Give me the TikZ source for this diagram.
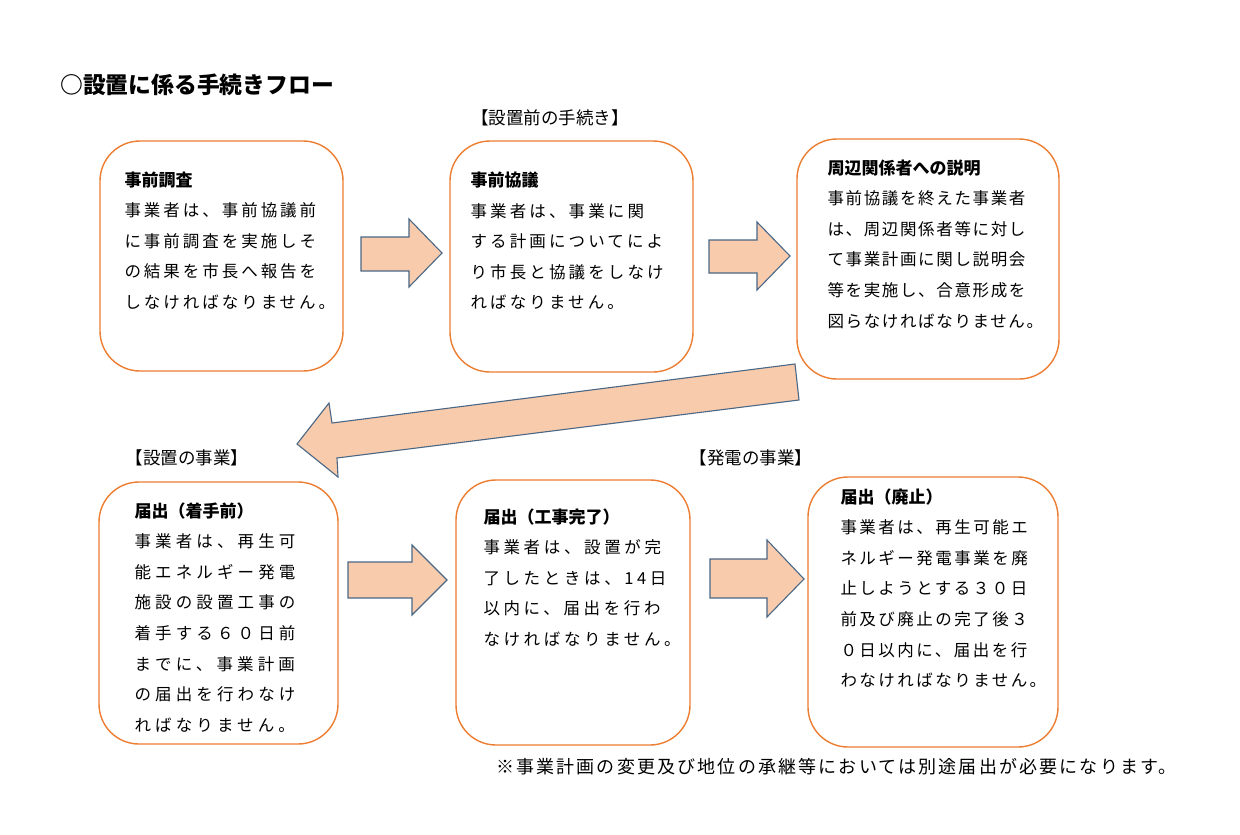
\documentclass[tikz,border=0pt]{standalone}
\usepackage{fontspec}
\usepackage{xcolor}
\usepackage{tikz}
\setmainfont{Noto Sans CJK JP}
\newfontfamily\jp{Noto Sans CJK JP}

\definecolor{boxline}{HTML}{ED7D31}
\definecolor{arrowfill}{HTML}{F8CBAD}
\definecolor{arrowline}{HTML}{4A6785}

\newcommand{\boxhead}[1]{{\jp\bfseries\fontsize{17}{30.6}\selectfont #1}}

\begin{document}
\begin{tikzpicture}[x=1pt,y=-1pt,
        flowbox/.style={draw=boxline, line width=1.4pt, rounded corners=40pt, fill=white},
        boxtext/.style={anchor=north west, inner sep=0pt, align=left,
            font=\fontsize{16.5}{30.6}\selectfont\addfontfeature{LetterSpace=#1}},
        boxtext/.default=15,
        blockarrow/.style={draw=arrowline, line width=1.1pt, fill=arrowfill, line join=miter},
        tag/.style={inner sep=0pt, font=\fontsize{17.5}{19}\selectfont}]
        \useasboundingbox (0,0) rectangle (1240,835);

        \node[anchor=west, inner sep=0pt, font=\bfseries\fontsize{22.8}{24}\selectfont] (title) at (60,85) {○設置に係る手続きフロー};
        \node[tag] (mae) at (550,118) {【設置前の手続き】};
        \node[tag] (setchi) at (187,458) {【設置の事業】};
        \node[tag] (hatsuden) at (751,458) {【発電の事業】};

        \node[flowbox, minimum width=243pt, minimum height=230pt] (chosa) at (221.5,256) {};
        \node[flowbox, minimum width=243pt, minimum height=231pt] (kyogi) at (571.5,256.5) {};
        \node[flowbox, minimum width=262pt, minimum height=240pt] (setsumei) at (928,259) {};
        \node[flowbox, minimum width=239pt, minimum height=262pt] (chakushu) at (218.5,613) {};
        \node[flowbox, minimum width=234pt, minimum height=265pt] (kanryo) at (573,612.5) {};
        \node[flowbox, minimum width=250pt, minimum height=270pt] (haishi) at (933,612) {};

        \node[boxtext=18] (chosa-t) at ([shift={(25,31)}]chosa.north west)
            {\boxhead{事前調査}\\事業者は、事前協議前\\に事前調査を実施しそ\\の結果を市長へ報告を\\しなければなりません。};
        \node[boxtext=19] (kyogi-t) at ([shift={(21,31.5)}]kyogi.north west)
            {\boxhead{事前協議}\\事業者は、事業に関\\する計画についてによ\\り市長と協議をしなけ\\ればなりません。};
        \node[boxtext=10] (setsumei-t) at ([shift={(31,21)}]setsumei.north west)
            {\boxhead{周辺関係者への説明}\\事前協議を終えた事業者\\は、周辺関係者等に対し\\て事業計画に関し説明会\\等を実施し、合意形成を\\図らなければなりません。};
        \node[boxtext=25] (chakushu-t) at ([shift={(36,21)}]chakushu.north west)
            {\boxhead{届出（着手前）}\\事業者は、再生可\\能エネルギー発電\\施設の設置工事の\\着手する６０日前\\までに、事業計画\\の届出を行わなけ\\ればなりません。};
        \node[boxtext=22] (kanryo-t) at ([shift={(28,29)}]kanryo.north west)
            {\boxhead{届出（工事完了）}\\事業者は、設置が完\\了したときは、14日\\以内に、届出を行わ\\なければなりません。};
        \node[boxtext=15] (haishi-t) at ([shift={(33,12)}]haishi.north west)
            {\boxhead{届出（廃止）}\\事業者は、再生可能エ\\ネルギー発電事業を廃\\止しようとする３０日\\前及び廃止の完了後３\\０日以内に、届出を行\\わなければなりません。};

        % block arrows
        \draw[blockarrow] (361,237) -- (409,237) -- (409,219) -- (442,253) -- (409,287) -- (409,271) -- (361,271) -- cycle;
        \draw[blockarrow] (709,240) -- (757,240) -- (757,222) -- (790,256) -- (757,290) -- (757,273) -- (709,273) -- cycle;
        \draw[blockarrow] (795,364) -- (332,423) -- (329,403) -- (297,444) -- (338,477) -- (337,458) -- (799,400) -- cycle;
        \draw[blockarrow] (348,562) -- (412,562) -- (412,545) -- (447,580) -- (412,615) -- (412,598) -- (348,598) -- cycle;
        \draw[blockarrow] (710,559) -- (767,559) -- (767,540) -- (804,579) -- (767,617) -- (767,598) -- (710,598) -- cycle;

        \node[anchor=west, inner sep=0pt, font=\fontsize{18}{20}\selectfont\addfontfeature{LetterSpace=12}] (chui) at (496,767)
            {※事業計画の変更及び地位の承継等においては別途届出が必要になります。};
    \end{tikzpicture}
\end{document}
